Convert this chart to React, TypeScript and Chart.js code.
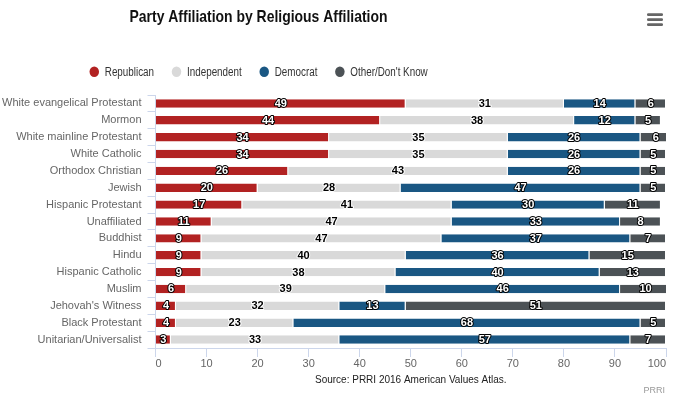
import React, { useEffect, useRef } from "react";
import { Chart, registerables } from "chart.js";

Chart.register(...registerables);

const categories = [
  "White evangelical Protestant",
  "Mormon",
  "White mainline Protestant",
  "White Catholic",
  "Orthodox Christian",
  "Jewish",
  "Hispanic Protestant",
  "Unaffiliated",
  "Buddhist",
  "Hindu",
  "Hispanic Catholic",
  "Muslim",
  "Jehovah's Witness",
  "Black Protestant",
  "Unitarian/Universalist",
];

const republican = [49, 44, 34, 34, 26, 20, 17, 11, 9, 9, 9, 6, 4, 4, 3];
const independent = [31, 38, 35, 35, 43, 28, 41, 47, 47, 40, 38, 39, 32, 23, 33];
const democrat = [14, 12, 26, 26, 26, 47, 30, 33, 37, 36, 40, 46, 13, 68, 57];
const other = [6, 5, 6, 5, 5, 5, 11, 8, 7, 15, 13, 10, 51, 5, 7];

const seriesNames = ["Republican", "Independent", "Democrat", "Other/Don't Know"];
const seriesColors = ["#b22222", "#d9d9d9", "#1a5783", "#4c5256"];
const labelColors = ["#ffffff", "#000000", "#ffffff", "#ffffff"];

const titleText = "Party Affiliation by Religious Affiliation";
const sourceText = "Source: PRRI 2016 American Values Atlas.";
const creditText = "PRRI";

const FONT = '"Liberation Sans", Arial, Helvetica, sans-serif';
const NARROW = 0.82;

const dataLabelPlugin = {
  id: "dataLabels",
  afterDatasetsDraw(chart: any) {
    const ctx = chart.ctx;
    ctx.save();
    ctx.font = `bold 11px ${FONT}`;
    ctx.textAlign = "center";
    ctx.textBaseline = "middle";
    ctx.lineJoin = "round";
    chart.data.datasets.forEach((ds: any, i: number) => {
      const meta = chart.getDatasetMeta(i);
      meta.data.forEach((bar: any, j: number) => {
        const v = ds.data[j];
        const p = bar.getProps(["x", "y", "base"], true);
        const cx = (p.x + p.base) / 2;
        const txt = String(v);
        const fill = labelColors[i];
        ctx.lineWidth = 2;
        ctx.strokeStyle = fill === "#ffffff" ? "#000000" : "#ffffff";
        ctx.strokeText(txt, cx, p.y + 0.5);
        ctx.fillStyle = fill;
        ctx.fillText(txt, cx, p.y + 0.5);
      });
    });
    ctx.restore();
  },
};

const decorPlugin = {
  id: "decor",
  afterDraw(chart: any) {
    const ctx = chart.ctx;
    const area = chart.chartArea;
    ctx.save();

    // Title (narrow face)
    ctx.font = `bold 17px ${FONT}`;
    ctx.fillStyle = "#111111";
    ctx.textBaseline = "alphabetic";
    ctx.textAlign = "left";
    const tw = ctx.measureText(titleText).width * NARROW;
    const center = 258.5;
    ctx.save();
    ctx.translate(center - tw / 2, 22);
    ctx.scale(NARROW, 1);
    ctx.fillText(titleText, 0, 0);
    ctx.restore();

    // Legend
    ctx.font = `12px ${FONT}`;
    const r = 5;
    const symGap = 10.5;
    const itemGap = 22.5;
    const widths = seriesNames.map((n) => ctx.measureText(n).width * NARROW);
    let total = r;
    widths.forEach((w, i) => {
      total += symGap + w + (i < widths.length - 1 ? itemGap : 0);
    });
    let x = center - total / 2;
    const ly = 71.7;
    seriesNames.forEach((n, i) => {
      const cx = x + r;
      ctx.fillStyle = seriesColors[i];
      ctx.beginPath();
      ctx.ellipse(cx, ly, r * 0.95, r * 1.05, 0, 0, Math.PI * 2);
      ctx.fill();
      ctx.fillStyle = "#333333";
      ctx.save();
      ctx.translate(cx + symGap, 76);
      ctx.scale(NARROW, 1);
      ctx.fillText(n, 0, 0);
      ctx.restore();
      x = cx + symGap + widths[i] + itemGap - r;
    });

    // Source
    ctx.font = `10px ${FONT}`;
    ctx.fillStyle = "#222222";
    ctx.textAlign = "center";
    ctx.fillText(sourceText, (area.left + area.right) / 2, 382.5);

    // Credit
    ctx.font = `9px ${FONT}`;
    ctx.fillStyle = "#999999";
    ctx.textAlign = "right";
    ctx.fillText(creditText, 665, 392.5);

    // Menu icon
    ctx.fillStyle = "#666666";
    [13.3, 18.3, 23.3].forEach((yy) => {
      ctx.beginPath();
      ctx.roundRect(647, yy, 16, 2.6, 1.2);
      ctx.fill();
    });

    ctx.restore();
  },
};

export default function App() {
  const ref = useRef<HTMLCanvasElement | null>(null);

  useEffect(() => {
    document.body.style.margin = "0";
    const canvas = ref.current;
    if (!canvas) return;
    const chart = new Chart(canvas, {
      type: "bar",
      data: {
        labels: categories,
        datasets: [republican, independent, democrat, other].map((d, i) => ({
          label: seriesNames[i],
          data: d,
          backgroundColor: seriesColors[i],
          borderColor: "#ffffff",
          borderWidth: { top: 0, bottom: 0, left: 0, right: 1 },
          borderSkipped: false,
          categoryPercentage: 1,
          barPercentage: 0.5,
        })),
      },
      options: {
        indexAxis: "y",
        responsive: false,
        animation: false,
        devicePixelRatio: 1,
        layout: { padding: { top: 95, right: 7, bottom: 0, left: 0 } },
        plugins: {
          legend: { display: false },
          title: { display: false },
          tooltip: { enabled: false },
        },
        scales: {
          x: {
            stacked: true,
            min: 0,
            max: 100,
            ticks: {
              stepSize: 10,
              color: "#666666",
              font: { family: FONT, size: 11 },
              padding: 0,
              align: "inner",
              maxRotation: 0,
            },
            grid: {
              drawOnChartArea: false,
              drawTicks: true,
              tickLength: 9,
              color: "#ccd6eb",
            },
            border: { display: true, color: "#ccd6eb" },
            afterFit: (s: any) => {
              s.height = 47;
              s.paddingLeft = 0;
              s.paddingRight = 0;
            },
          },
          y: {
            stacked: true,
            ticks: {
              color: "#666666",
              font: { family: FONT, size: 11 },
              padding: 6,
              autoSkip: false,
            },
            grid: {
              drawOnChartArea: false,
              drawTicks: true,
              tickLength: 8,
              offset: true,
              color: "#ccd6eb",
            },
            border: { display: true, color: "#ccd6eb" },
            afterFit: (s: any) => {
              s.width = 155.5;
              s.paddingTop = 0;
              s.paddingBottom = 0;
            },
          },
        },
      },
      plugins: [dataLabelPlugin, decorPlugin],
    } as any);
    return () => chart.destroy();
  }, []);

  return (
    <div style={{ width: 673, height: 395, background: "#ffffff" }}>
      <canvas ref={ref} width={673} height={395} />
    </div>
  );
}
